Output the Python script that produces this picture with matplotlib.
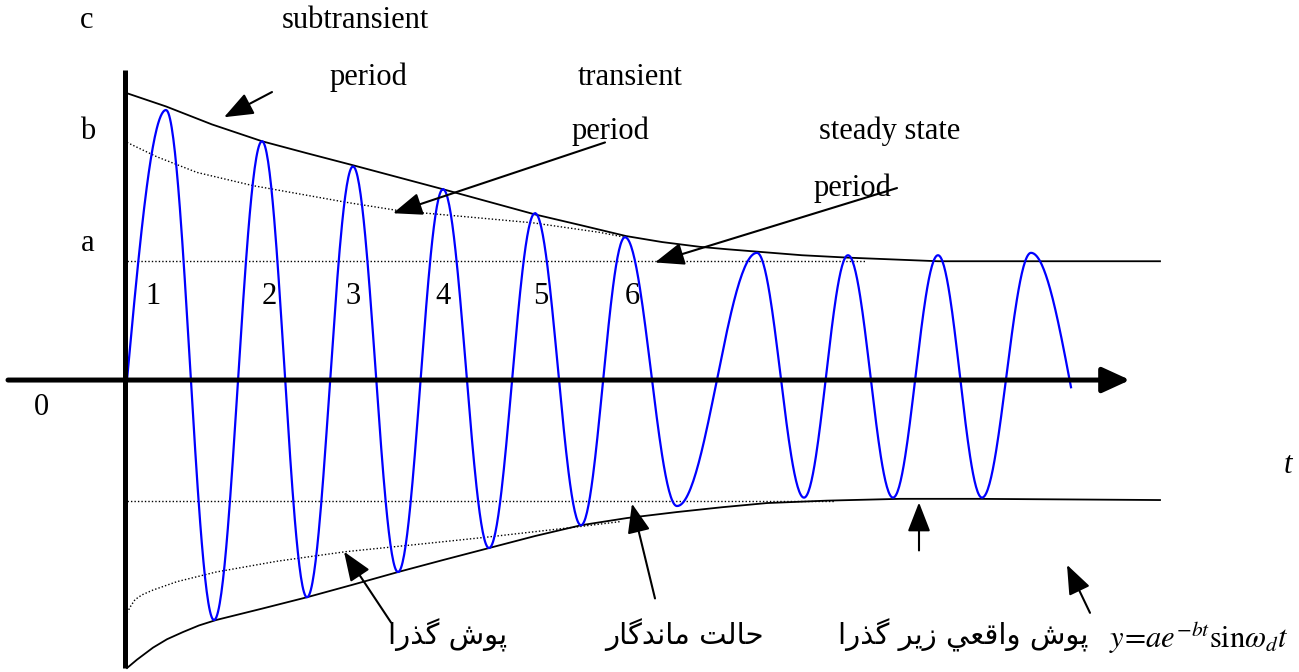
import numpy as np
import matplotlib
matplotlib.use("Agg")
import matplotlib.pyplot as plt

plt.rcParams["font.family"] = "Liberation Serif"
plt.rcParams["mathtext.fontset"] = "stix"

# ── Data (t: time units, y: per-unit amplitude, a-level ~ 1) ──────────────────
# blue oscillation: start, alternating peaks/troughs, end
wave_t = [0.00, 0.39, 0.87, 1.35, 1.80, 2.26, 2.71, 3.16, 3.62, 4.08, 4.54,
          4.98, 5.50, 6.30, 6.77, 7.21, 7.66, 8.11, 8.55, 9.04, 9.44]
wave_y = [0.00, 2.25, -2.00, 1.99, -1.81, 1.78, -1.60, 1.59, -1.40, 1.39, -1.21,
          1.19, -1.05, 1.06, -0.98, 1.04, -0.98, 1.04, -0.98, 1.06, -0.06]

# upper (subtransient) envelope
upper_t = [0.00, 0.39, 0.85, 1.35, 1.80, 2.26, 2.71, 3.16, 3.62, 4.08, 4.54,
           4.99, 5.35, 5.73, 6.00, 6.30, 6.75, 7.21, 7.66, 8.11, 8.93, 10.33]
upper_y = [2.39, 2.28, 2.13, 1.99, 1.89, 1.79, 1.69, 1.59, 1.485, 1.38, 1.29,
           1.20, 1.15, 1.11, 1.09, 1.07, 1.04, 1.02, 1.005, 0.99, 0.99, 0.99]

# upper dotted (transient) envelope
trans_t = [0.00, 0.30, 0.70, 1.26, 1.73, 2.20, 2.73, 3.40, 4.06, 4.73, 4.98]
trans_y = [1.98, 1.86, 1.73, 1.62, 1.55, 1.48, 1.41, 1.36, 1.31, 1.23, 1.19]

# lower envelope
lower_t = [0.00, 0.10, 0.26, 0.40, 0.56, 0.72, 0.89, 1.35, 1.80, 2.26, 2.71,
           3.16, 3.62, 4.08, 4.54, 5.00, 5.50, 5.95, 6.40, 7.00, 7.73, 8.50, 10.33]
lower_y = [-2.40, -2.33, -2.23, -2.16, -2.10, -2.045, -2.00, -1.905, -1.81, -1.705, -1.60,
           -1.50, -1.40, -1.30, -1.21, -1.15, -1.10, -1.06, -1.025, -1.005, -0.99, -0.99, -1.00]

# lower dotted (transient) envelope
ltrans_t = [0.00, 0.04, 0.08, 0.15, 0.26, 0.50, 0.89, 1.50, 2.19, 2.90, 3.59, 4.54, 4.93]
ltrans_y = [-1.94, -1.88, -1.83, -1.79, -1.75, -1.68, -1.60, -1.51, -1.43, -1.37, -1.31, -1.22, -1.18]

# steady-state dotted levels
steady_level = 0.99
steady_end_up = 7.38
steady_end_low = 7.08

peak_labels = ["1", "2", "3", "4", "5", "6"]
peak_label_t = [0.26, 1.42, 2.26, 3.16, 4.14, 5.05]

# ── Persian text shaping (matplotlib has no Arabic joining) ───────────────────
FORMS = {  # isolated, final, initial, medial
    "ا": ("\uFE8D", "\uFE8E", None, None),
    "د": ("\uFEA9", "\uFEAA", None, None),
    "ذ": ("\uFEAB", "\uFEAC", None, None),
    "ر": ("\uFEAD", "\uFEAE", None, None),
    "ز": ("\uFEAF", "\uFEB0", None, None),
    "و": ("\uFEED", "\uFEEE", None, None),
    "ل": ("\uFEDD", "\uFEDE", "\uFEDF", "\uFEE0"),
    "ت": ("\uFE95", "\uFE96", "\uFE97", "\uFE98"),
    "ح": ("\uFEA1", "\uFEA2", "\uFEA3", "\uFEA4"),
    "م": ("\uFEE1", "\uFEE2", "\uFEE3", "\uFEE4"),
    "ن": ("\uFEE5", "\uFEE6", "\uFEE7", "\uFEE8"),
    "ش": ("\uFEB5", "\uFEB6", "\uFEB7", "\uFEB8"),
    "ق": ("\uFED5", "\uFED6", "\uFED7", "\uFED8"),
    "ع": ("\uFEC9", "\uFECA", "\uFECB", "\uFECC"),
    "ي": ("\uFEF1", "\uFEF2", "\uFEF3", "\uFEF4"),
    "پ": ("\uFB56", "\uFB57", "\uFB58", "\uFB59"),
    "گ": ("\uFB92", "\uFB93", "\uFB94", "\uFB95"),
}


def shape(text):
    out = []
    for i, ch in enumerate(text):
        if ch not in FORMS:
            out.append(ch)
            continue
        prev = text[i - 1] if i > 0 else " "
        nxt = text[i + 1] if i + 1 < len(text) else " "
        join_prev = prev in FORMS and FORMS[prev][2] is not None
        join_next = FORMS[ch][2] is not None and nxt in FORMS
        iso, fin, ini, med = FORMS[ch]
        if join_prev and join_next:
            out.append(med)
        elif join_prev:
            out.append(fin)
        elif join_next:
            out.append(ini)
        else:
            out.append(iso)
    return "".join(out[::-1])


# ── Figure ────────────────────────────────────────────────────────────────────
fig = plt.figure(figsize=(12.99, 6.72), dpi=100, facecolor="white")
ax = fig.add_axes([0, 0, 1, 1])
ax.set_xlim(-1.27, 11.72)
ax.set_ylim(-2.433, 3.167)
ax.axis("off")

# oscillation built segment by segment between the read extrema
xs, ys = [], []
n = len(wave_t)
for i in range(n - 1):
    t0, t1, y0, y1 = wave_t[i], wave_t[i + 1], wave_y[i], wave_y[i + 1]
    s = np.linspace(0, 1, 60)
    if i == 0:
        seg = y0 + (y1 - y0) * np.sin(np.pi / 2 * s)
    elif i == n - 2:
        seg = y0 + (y1 - y0) * (1 - np.cos(np.pi / 2 * s))
    else:
        seg = y0 + (y1 - y0) * (1 - np.cos(np.pi * s)) / 2
    xs.extend(t0 + (t1 - t0) * s)
    ys.extend(seg)
ax.plot(xs, ys, color="#0000FF", lw=1.6, zorder=4)

# envelopes
DOT = (0, (1, 1.5))
ax.plot(upper_t, upper_y, color="black", lw=1.3, zorder=3)
ax.plot(lower_t, lower_y, color="black", lw=1.3, zorder=3)
ax.plot(trans_t, trans_y, color="black", lw=1.0, ls=DOT, zorder=3)
ax.plot(ltrans_t, ltrans_y, color="black", lw=1.0, ls=DOT, zorder=3)
ax.plot([0, steady_end_up], [steady_level, steady_level],
        color="black", lw=1.0, ls=DOT, zorder=3)
ax.plot([0, steady_end_low], [-steady_level - 0.02, -steady_level - 0.02],
        color="black", lw=1.0, ls=DOT, zorder=3)

# axes with arrow
ax.plot([-0.02, -0.02], [-2.40, 2.58], color="black", lw=3.6, zorder=5,
        solid_capstyle="butt")
ax.annotate("", xy=(10.03, 0.0), xytext=(-1.19, 0.0),
            arrowprops=dict(arrowstyle="-|>,head_length=1.2,head_width=0.55",
                            lw=3.6, color="black", mutation_scale=14,
                            shrinkA=0, shrinkB=0), zorder=5)

# pointer arrows (tip, tail)
arrows = [
    ((0.97, 2.19), (1.45, 2.40)),
    ((2.66, 1.39), (4.78, 1.98)),
    ((5.28, 0.98), (7.70, 1.60)),
    ((2.17, -1.43), (2.64, -2.02)),
    ((5.05, -1.03), (5.28, -1.82)),
    ((7.92, -1.02), (7.92, -1.42)),
    ((9.40, -1.54), (9.63, -1.94)),
]
for tip, tail in arrows:
    ax.annotate("", xy=tip, xytext=tail,
                arrowprops=dict(arrowstyle="-|>,head_length=0.9,head_width=0.35",
                                lw=1.5, color="black", mutation_scale=20,
                                shrinkA=0, shrinkB=0), zorder=6)

# labels
FS = 22
kw = dict(ha="center", va="center", fontsize=FS, color="black")
ax.text(-0.40, 3.00, "c", **kw)
ax.text(2.28, 3.00, "subtransient", **kw)
ax.text(2.41, 2.525, "period", **kw)
ax.text(5.03, 2.525, "transient", **kw)
ax.text(4.83, 2.07, "period", **kw)
ax.text(7.63, 2.07, "steady state", **kw)
ax.text(7.25, 1.60, "period", **kw)
ax.text(-0.39, 2.075, "b", **kw)
ax.text(-0.39, 1.14, "a", **kw)
ax.text(-0.86, -0.225, "0", **kw)
for lab, t in zip(peak_labels, peak_label_t):
    ax.text(t, 0.70, lab, **kw)
ax.text(11.61, -0.71, "t", ha="center", va="center", fontsize=FS, style="italic")

fa = dict(ha="center", va="center", fontsize=21, family=["DejaVu Sans"])
ax.text(3.21, -2.125, shape("پوش گذرا"), **fa)
ax.text(5.58, -2.125, shape("حالت ماندگار"), **fa)
ax.text(8.36, -2.125, shape("پوش واقعي زير گذرا"), **fa)
ax.text(10.72, -2.15, r"$y\!=\!ae^{-bt}\mathrm{sin}\omega_d t$",
        ha="center", va="center", fontsize=22)

fig.savefig("out.png", dpi=100, facecolor="white")
